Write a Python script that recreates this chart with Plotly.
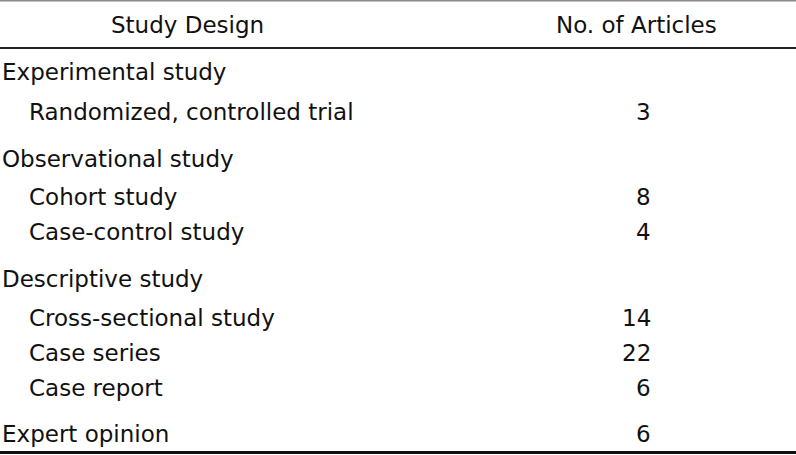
import plotly.graph_objects as go

# ---- data ----
headers = ["Study Design", "No. of Articles"]
designs = [
    "Experimental study",
    "Randomized, controlled trial",
    "Observational study",
    "Cohort study",
    "Case-control study",
    "Descriptive study",
    "Cross-sectional study",
    "Case series",
    "Case report",
    "Expert opinion",
]
levels = [0, 1, 0, 1, 1, 0, 1, 1, 1, 0]
articles = [None, 3, None, 8, 4, None, 14, 22, 6, 6]

# ---- layout (pixel positions) ----
W, H = 796, 455
header_y = 25
row_y = [72, 112, 159, 197, 232, 279, 318, 353, 388, 434]
x_indent = {0: 0, 1: 27}
x_head1 = 187
x_head2 = 636
x_num_right = 653
FONT = dict(family="DejaVu Sans", size=23, color="#111111")

fig = go.Figure()
fig.add_trace(go.Scatter(x=[0, W], y=[0, H], mode="markers",
                         marker=dict(opacity=0), hoverinfo="skip", showlegend=False))

ann = []
ann.append(dict(x=x_head1, y=header_y, text=headers[0], xanchor="center", yanchor="middle",
                showarrow=False, font=FONT, xref="x", yref="y"))
ann.append(dict(x=x_head2, y=header_y, text=headers[1], xanchor="center", yanchor="middle",
                showarrow=False, font=FONT, xref="x", yref="y"))
for name, lvl, n, y in zip(designs, levels, articles, row_y):
    ann.append(dict(x=x_indent[lvl], y=y, text=name, xanchor="left", yanchor="middle",
                    showarrow=False, font=FONT, xref="x", yref="y"))
    if n is not None:
        ann.append(dict(x=x_num_right, y=y, text=str(n), xanchor="right", yanchor="middle",
                        showarrow=False, font=FONT, xref="x", yref="y"))

shapes = [
    dict(type="line", x0=0, x1=W, y0=0.75, y1=0.75, xref="x", yref="y",
         line=dict(color="#8a8a8a", width=1.5)),
    dict(type="line", x0=0, x1=W, y0=48, y1=48, xref="x", yref="y",
         line=dict(color="#222222", width=2)),
    dict(type="line", x0=0, x1=W, y0=452.5, y1=452.5, xref="x", yref="y",
         line=dict(color="#111111", width=3)),
]

fig.update_layout(
    width=W, height=H,
    margin=dict(l=0, r=0, t=0, b=0),
    paper_bgcolor="white", plot_bgcolor="white",
    xaxis=dict(range=[0, W], visible=False, fixedrange=True),
    yaxis=dict(range=[H, 0], visible=False, fixedrange=True),
    annotations=ann, shapes=shapes, showlegend=False,
)
fig.write_html("out.html",
               config={"displayModeBar": False, "staticPlot": True},
               post_script="document.body.style.margin='0';document.body.style.overflow='hidden';")
